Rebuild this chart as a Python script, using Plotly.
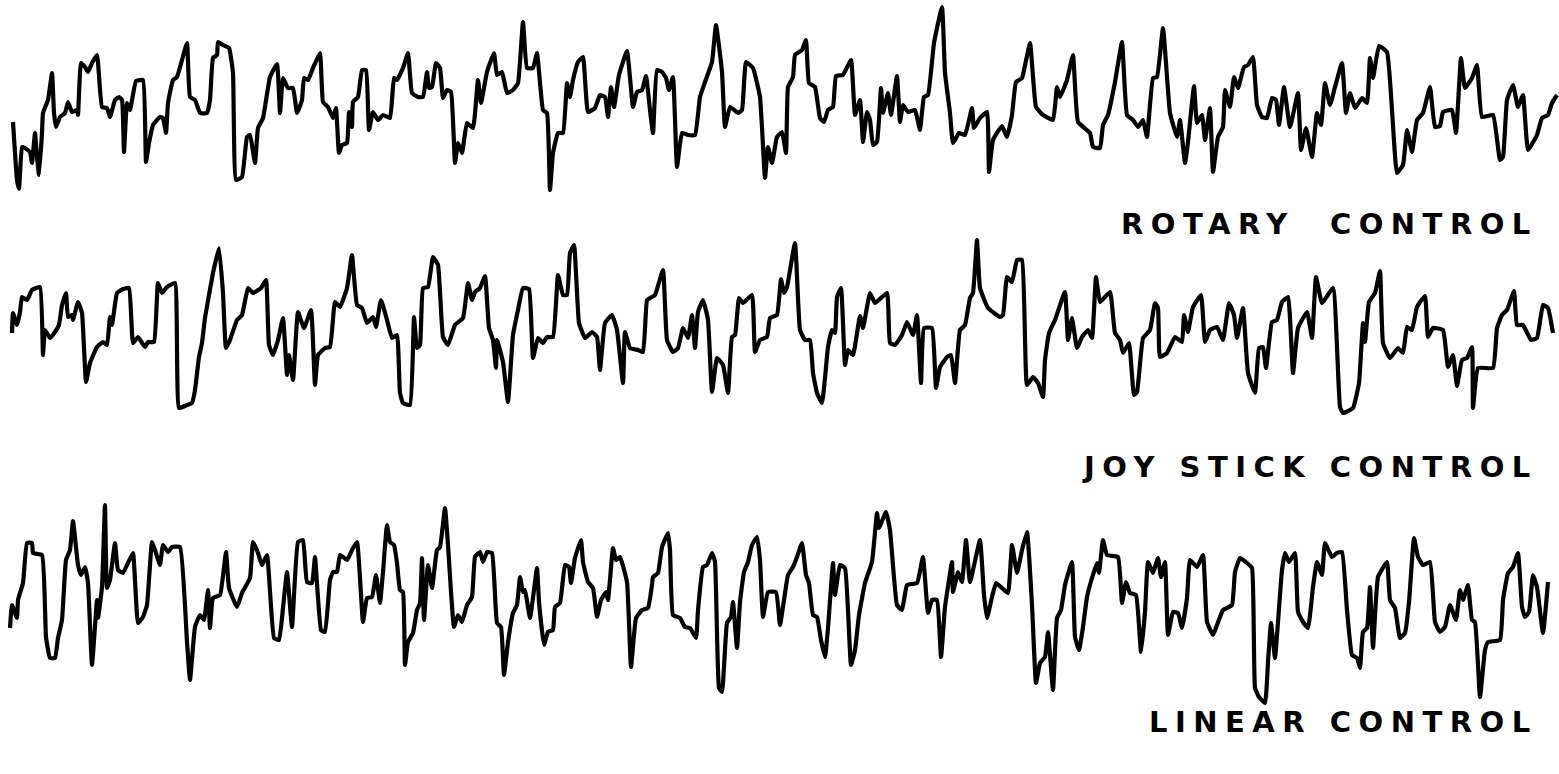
import plotly.graph_objects as go

W, H = 1559, 774

# ---- Rotary control trace (time units, deflection units) ----
rotary_t = [13,17,19,22,25,30,32,35,37,39,
            42,43,48,52,54,56,60,65,68,72,
            77,78,81,85,88,92,97,102,107,110,
            115,119,122,124,127,130,136,143,146,149,
            153,160,163,166,168,173,177,182,187,190,
            195,200,207,210,213,217,218,223,229,233,
            236,242,247,250,255,258,263,270,277,280,
            283,288,293,297,302,304,308,313,320,323,
            328,333,336,339,342,347,349,352,353,358,
            362,366,369,373,378,383,390,394,397,403,
            408,412,418,423,427,429,432,436,440,443,
            447,451,455,458,462,467,473,478,481,487,
            494,497,502,507,513,518,523,527,533,537,
            543,547,550,553,558,563,567,570,573,578,
            583,588,595,600,605,608,611,614,619,627,
            633,637,642,646,650,653,657,662,666,669,
            673,677,682,688,695,700,705,712,716,722,
            725,730,738,742,746,753,760,765,768,772,
            777,782,786,788,793,795,802,806,809,815,
            820,824,828,833,836,843,851,855,860,863,
            867,870,873,877,881,883,888,891,897,900,
            903,908,915,920,924,928,934,942,945,950,
            953,959,965,972,974,980,987,989,993,1002,
            1007,1012,1016,1022,1030,1036,1043,1053,1057,1060,
            1067,1073,1078,1090,1093,1100,1103,1108,1115,1122,
            1127,1133,1138,1143,1147,1153,1157,1163,1170,1177,
            1180,1185,1188,1194,1197,1202,1205,1210,1213,1218,
            1223,1225,1230,1234,1238,1244,1248,1253,1257,1262,
            1267,1272,1276,1279,1284,1290,1298,1301,1306,1312,
            1317,1321,1325,1330,1335,1342,1346,1350,1355,1362,
            1367,1370,1373,1379,1387,1392,1397,1403,1407,1412,
            1417,1423,1430,1435,1440,1443,1452,1456,1461,1465,
            1472,1477,1482,1493,1500,1503,1507,1513,1518,1523,
            1528,1537,1542,1548,1552,1557]
rotary_v = [122,180,189,147,148,152,163,133,157,175,
            133,113,100,73,113,127,117,113,102,112,
            110,115,63,67,72,63,55,107,108,117,
            100,97,100,152,103,110,81,80,162,143,
            125,117,118,133,103,80,77,60,43,97,
            100,113,113,100,58,55,42,45,48,73,
            180,177,137,135,163,128,118,77,64,113,
            78,88,88,113,100,78,80,68,53,102,
            107,118,108,153,145,143,112,127,102,97,
            70,70,130,112,120,115,118,78,80,68,
            53,93,97,97,72,88,87,63,68,98,
            90,92,163,143,153,123,128,80,103,72,
            53,75,72,93,90,83,22,68,68,53,
            110,113,190,153,133,133,83,97,80,62,
            57,112,108,95,97,117,87,107,75,51,
            107,92,90,76,110,133,70,72,78,90,
            77,167,133,135,135,97,82,62,25,72,
            127,107,113,110,62,68,97,178,147,163,
            137,132,153,87,77,55,50,40,83,87,
            118,122,110,107,76,75,60,115,100,142,
            112,120,145,142,88,113,93,115,76,122,
            105,112,110,130,97,95,43,7,73,113,
            143,133,135,108,128,118,112,172,140,126,
            137,115,82,78,43,107,115,120,87,97,
            80,55,122,133,147,148,125,115,82,42,
            115,120,127,120,137,78,77,28,113,137,
            120,163,142,86,123,115,140,108,172,137,
            127,90,107,77,88,67,65,57,105,117,
            118,98,100,125,87,127,93,150,128,157,
            113,125,83,105,87,63,113,93,108,98,
            103,58,78,46,52,110,173,165,130,152,
            120,113,87,127,126,112,110,133,58,88,
            78,65,117,115,160,157,100,85,107,95,
            150,135,118,115,103,95]

# ---- Joy stick control trace ----
joy_t = [12,13,17,20,22,27,32,40,43,45,
         50,55,59,62,66,68,72,73,78,82,
         86,90,97,103,107,110,112,117,123,129,
         133,138,145,148,154,158,162,167,175,179,
         187,192,195,199,202,205,213,219,223,226,
         230,237,242,248,253,261,266,269,273,278,
         283,287,289,293,298,304,311,315,318,325,
         330,335,340,347,352,357,362,367,373,376,
         381,387,392,397,400,403,410,414,417,420,
         423,428,433,438,443,448,455,463,468,472,
         475,480,485,489,493,496,497,503,508,513,
         518,523,529,533,538,543,547,553,558,563,
         567,570,574,579,585,592,597,600,605,612,
         617,623,625,630,638,643,647,650,655,663,
         667,673,678,683,688,692,695,698,703,708,
         712,717,723,728,732,735,739,743,752,755,
         760,767,770,777,781,784,787,795,800,805,
         810,813,817,822,825,828,832,835,837,841,
         845,848,853,860,863,870,875,887,890,895,
         902,907,913,917,921,924,932,936,940,947,
         951,955,960,965,970,973,977,980,988,1000,
         1003,1007,1012,1017,1022,1027,1033,1038,1043,1045,
         1049,1055,1065,1068,1072,1077,1082,1088,1092,1096,
         1100,1110,1115,1120,1123,1129,1134,1137,1143,1150,
         1155,1158,1160,1167,1175,1182,1184,1188,1193,1201,
         1205,1210,1217,1223,1229,1234,1237,1243,1248,1255,
         1259,1263,1266,1272,1277,1282,1288,1293,1298,1307,
         1312,1316,1322,1333,1340,1343,1353,1359,1363,1365,
         1369,1375,1380,1383,1390,1398,1403,1407,1412,1417,
         1425,1428,1433,1443,1448,1453,1457,1462,1467,1472,
         1473,1478,1493,1497,1502,1507,1514,1517,1523,1531,
         1537,1543,1548,1553]
joy_v = [333,313,325,312,297,300,290,287,355,330,
         338,332,325,305,293,317,315,320,302,313,
         382,363,347,342,345,317,325,293,289,288,
         343,337,347,342,342,283,293,287,283,408,
         405,403,390,357,343,318,273,248,293,348,
         340,320,315,288,293,288,280,345,355,340,
         318,375,355,380,312,328,310,385,355,348,
         347,302,307,288,255,305,308,323,317,327,
         300,320,338,335,393,403,405,317,348,345,
         288,287,257,265,337,345,325,318,283,300,
         292,288,276,328,340,368,340,362,402,335,
         310,288,289,358,338,343,337,337,275,295,
         295,253,245,323,338,332,337,370,323,315,
         330,383,332,348,350,352,300,298,295,270,
         340,352,348,328,338,315,348,312,300,320,
         392,358,365,393,337,335,298,303,295,352,
         340,337,318,315,279,293,287,243,330,340,
         340,373,393,403,378,347,330,333,297,288,
         365,350,355,316,328,293,303,293,343,345,
         335,322,335,315,383,328,328,388,367,357,
         355,383,330,325,298,293,240,288,308,317,
         315,277,282,260,260,385,377,383,397,360,
         333,320,292,340,318,348,337,330,338,277,
         302,292,333,340,353,343,395,392,338,330,
         303,308,357,353,337,342,315,332,307,295,
         342,330,327,340,303,315,338,308,373,393,
         348,347,368,322,320,302,297,373,328,312,
         338,277,303,288,407,413,408,383,323,342,
         302,293,271,343,358,348,353,327,330,307,
         296,337,328,330,367,355,386,360,358,347,
         408,368,368,328,315,310,291,325,325,340,
         338,305,308,333]

# ---- Linear control trace ----
linear_t = [10,12,17,18,23,27,32,33,42,46,
            50,55,58,62,66,70,73,78,81,85,
            88,92,97,98,102,105,107,110,115,118,
            123,128,133,138,143,147,152,155,160,163,
            168,172,180,187,190,195,200,204,208,210,
            213,220,226,229,237,242,250,253,258,262,
            267,274,279,283,287,292,298,303,307,312,
            315,321,325,330,333,337,340,347,352,357,
            363,367,372,376,380,383,387,390,394,397,
            400,403,405,408,413,417,420,422,424,428,
            432,437,440,445,448,454,458,462,467,472,
            475,480,483,487,492,497,501,504,508,513,
            517,520,523,525,530,537,539,544,548,553,
            555,560,565,569,571,575,581,583,588,593,
            597,601,606,608,613,616,620,627,631,636,
            642,648,652,653,658,662,668,670,673,680,
            685,690,696,698,703,707,712,715,719,722,
            727,731,733,737,740,744,748,752,757,760,
            763,768,776,780,784,788,793,797,802,806,
            809,813,817,821,825,828,833,835,840,845,
            851,855,859,865,872,877,879,886,890,897,
            902,907,917,923,928,932,937,941,945,952,
            953,958,962,966,970,980,984,987,992,996,
            1002,1008,1012,1017,1022,1027,1032,1036,1040,1045,
            1048,1053,1057,1061,1065,1072,1075,1079,1083,1087,
            1092,1097,1099,1103,1107,1118,1122,1126,1130,1136,
            1141,1145,1148,1153,1158,1161,1165,1168,1173,1178,
            1182,1187,1190,1197,1203,1207,1213,1217,1223,1232,
            1235,1240,1247,1252,1255,1259,1265,1268,1271,1275,
            1278,1282,1285,1289,1295,1298,1303,1308,1313,1317,
            1322,1325,1332,1337,1342,1347,1352,1357,1360,1363,
            1367,1370,1373,1378,1387,1390,1395,1400,1405,1409,
            1414,1418,1423,1430,1435,1440,1445,1450,1456,1460,
            1463,1468,1472,1475,1480,1485,1488,1500,1503,1508,
            1513,1518,1522,1525,1529,1533,1537,1543,1548]
linear_v = [628,605,618,600,583,543,543,553,555,637,
            658,658,638,620,560,550,521,565,575,567,
            583,665,600,618,587,505,588,580,543,570,
            573,563,553,623,617,605,542,550,565,545,
            552,547,547,642,680,627,615,620,590,628,
            598,595,552,588,607,593,578,542,553,565,
            555,638,640,608,572,627,542,540,582,583,
            557,630,632,580,572,572,555,560,550,542,
            622,598,597,575,603,572,525,542,545,563,
            590,592,665,642,633,610,603,558,620,565,
            588,550,547,508,545,627,615,622,605,597,
            557,552,562,552,553,623,627,675,642,613,
            605,577,592,590,618,568,602,645,632,630,
            607,603,565,567,583,558,540,562,582,588,
            617,600,592,600,548,560,557,582,667,618,
            610,608,585,577,573,547,533,550,615,618,
            627,628,638,610,567,565,553,562,688,692,
            623,617,602,648,602,572,562,545,537,560,
            617,592,592,625,600,575,567,557,543,575,
            583,615,617,640,657,628,563,595,565,568,
            665,650,615,583,562,513,528,512,530,605,
            610,585,583,557,613,600,600,657,607,562,
            592,572,582,540,582,540,595,618,597,583,
            588,593,545,573,550,532,605,683,663,657,
            632,690,618,610,585,562,637,650,627,597,
            578,563,573,540,555,557,603,582,593,595,
            652,612,562,573,558,577,562,635,612,613,
            628,598,560,567,555,622,635,625,610,605,
            572,558,563,568,688,697,703,662,623,658,
            622,570,553,562,553,612,622,628,587,562,
            575,543,557,553,552,610,655,658,668,632,
            628,587,648,577,562,600,608,638,633,602,
            538,557,565,562,622,632,627,605,620,590,
            600,585,620,622,697,650,642,640,600,573,
            567,553,607,617,612,575,587,633,582]

labels = ["ROTARY\u00a0\u00a0CONTROL", "JOY STICK CONTROL", "LINEAR CONTROL"]

ink = "#000000"
line_style = dict(color=ink, width=4.2, shape="spline", smoothing=0.35)

fig = go.Figure()
fig.add_trace(go.Scatter(x=rotary_t, y=rotary_v, mode="lines", line=line_style,
                         yaxis="y", name=labels[0], showlegend=False, hoverinfo="skip",
                         cliponaxis=False))
fig.add_trace(go.Scatter(x=joy_t, y=joy_v, mode="lines", line=line_style,
                         yaxis="y2", name=labels[1], showlegend=False, hoverinfo="skip",
                         cliponaxis=False))
fig.add_trace(go.Scatter(x=linear_t, y=linear_v, mode="lines", line=line_style,
                         yaxis="y3", name=labels[2], showlegend=False, hoverinfo="skip",
                         cliponaxis=False))

b1, b2 = 225, 470
hidden = dict(visible=False, showgrid=False, zeroline=False, fixedrange=True)
fig.update_layout(
    width=W, height=H,
    margin=dict(l=0, r=0, t=0, b=0),
    paper_bgcolor="white", plot_bgcolor="white",
    xaxis=dict(range=[0, W], **hidden),
    yaxis=dict(range=[b1, 0], domain=[1 - b1 / H, 1], **hidden),
    yaxis2=dict(range=[b2, b1], domain=[1 - b2 / H, 1 - b1 / H], **hidden),
    yaxis3=dict(range=[H, b2], domain=[0, 1 - b2 / H], **hidden),
)

label_y = [224, 467, 722]
label_x = [1540, 1540, 1540]
for txt, xx, yy in zip(labels, label_x, label_y):
    fig.add_annotation(
        text=f'<span style="letter-spacing:7.5px">{txt}</span>',
        xref="paper", yref="paper", x=xx / W, y=1 - yy / H,
        xanchor="right", yanchor="middle", showarrow=False,
        font=dict(family="DejaVu Sans", size=29, color=ink, weight="bold"),
    )

fig.write_html("out.html", config={"displayModeBar": False},
               post_script="document.body.style.margin='0px';")
